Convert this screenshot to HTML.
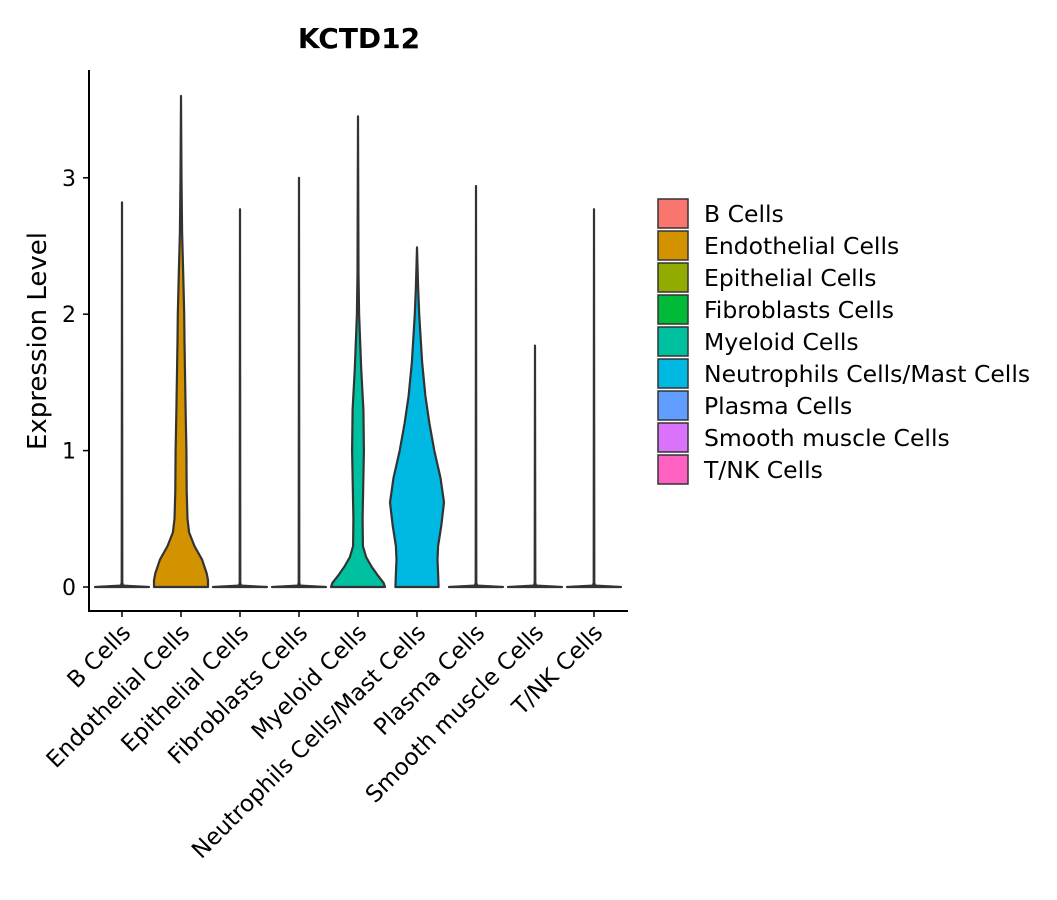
<!DOCTYPE html>
<html><head><meta charset="utf-8"><style>
body{margin:0;background:#fff}
svg{display:block;font-family:"DejaVu Sans","Liberation Sans",sans-serif}
</style></head><body>
<svg id="chart" width="1057" height="900" viewBox="0 0 1057 900">
<text x="359" y="48" text-anchor="middle" font-size="28" font-weight="bold">KCTD12</text>
<text transform="translate(46,341) rotate(-90)" text-anchor="middle" font-size="26">Expression Level</text>
<g id="plot"></g>
<g id="legend"></g>
</svg>
<script>
const categories=["B Cells","Endothelial Cells","Epithelial Cells","Fibroblasts Cells","Myeloid Cells","Neutrophils Cells/Mast Cells","Plasma Cells","Smooth muscle Cells","T/NK Cells"];
const colors=["#F8766D","#D39200","#93AA00","#00BA38","#00C19F","#00B9E3","#619CFF","#DB72FB","#FF61C3"];
const yTicks=[0,1,2,3];
const profileB=[[0,1],[0.01,0.04],[0.03,0.01],[2.82,0]];
const profileEndo=[[0,1],[0.05,1.0],[0.1,0.95],[0.2,0.78],[0.3,0.5],[0.4,0.3],[0.5,0.24],[0.7,0.21],[1.0,0.2],[1.3,0.17],[1.8,0.13],[2.0,0.12],[2.3,0.08],[2.6,0.04],[3.0,0.02],[3.6,0]];
const profileEpi=[[0,1],[0.01,0.04],[0.03,0.01],[2.77,0]];
const profileFib=[[0,1],[0.01,0.04],[0.03,0.01],[3.0,0]];
const profileMye=[[0,1],[0.03,0.95],[0.08,0.75],[0.15,0.5],[0.22,0.3],[0.3,0.18],[0.5,0.17],[1.0,0.22],[1.3,0.2],[1.6,0.12],[2.0,0.04],[2.3,0.02],[3.45,0]];
const profileNeu=[[0,0.8],[0.1,0.78],[0.2,0.76],[0.3,0.78],[0.45,0.9],[0.62,1],[0.8,0.87],[1.0,0.64],[1.2,0.46],[1.4,0.31],[1.65,0.19],[2.0,0.08],[2.2,0.04],[2.49,0]];
const profilePla=[[0,1],[0.01,0.04],[0.03,0.01],[2.94,0]];
const profileSmc=[[0,1],[0.01,0.04],[0.03,0.01],[1.77,0]];
const profileTnk=[[0,1],[0.01,0.04],[0.03,0.01],[2.77,0]];
const profiles=[profileB,profileEndo,profileEpi,profileFib,profileMye,profileNeu,profilePla,profileSmc,profileTnk];

const NS="http://www.w3.org/2000/svg";
const plot=document.getElementById('plot'),legend=document.getElementById('legend');
const y0=587,pxPerUnit=136.4,x0=122,step=59,halfMax=27;
const yScale=v=>y0-v*pxPerUnit;
const xScale=i=>x0+i*step;
function mk(tag,attrs,parent){const e=document.createElementNS(NS,tag);for(const k in attrs)e.setAttribute(k,attrs[k]);parent.appendChild(e);return e;}

profiles.forEach((p,i)=>{
  const cx=xScale(i);
  let left=[],right=[];
  p.forEach(([v,w])=>{left.push([cx-w*halfMax,yScale(v)]);right.push([cx+w*halfMax,yScale(v)]);});
  const pts=left.concat(right.reverse());
  const d="M"+pts.map(q=>q[0].toFixed(1)+","+q[1].toFixed(1)).join("L")+"Z";
  const path=mk('path',{d:d,fill:colors[i],stroke:"#333",'stroke-width':2.2,'stroke-linejoin':'round'},plot);
  
  
  const tk=mk('line',{x1:cx,x2:cx,y1:611,y2:617,stroke:"#000",'stroke-width':1.5},plot);
  
  
  const t=mk('text',{transform:`translate(${cx+10},${634}) rotate(-45)`,'text-anchor':'end','font-size':23},plot);
  t.textContent=categories[i];
  
  
  const r=mk('rect',{x:658,y:199+i*32,width:30,height:29,fill:colors[i],stroke:"#333",'stroke-width':1.5},legend);
  
  
  const lt=mk('text',{x:704,y:222+i*32,'font-size':23.5},legend);
  lt.textContent=categories[i];
  
  
});
yTicks.forEach(v=>{
  const y=yScale(v);
  const l=mk('line',{x1:83,x2:89,y1:y,y2:y,stroke:"#000",'stroke-width':1.5},plot);
  
  
  const t=mk('text',{x:76,y:y+8,'text-anchor':'end','font-size':22},plot);
  t.textContent=v;
  
  
});
const ya=mk('line',{x1:89,x2:89,y1:70,y2:612,stroke:"#000",'stroke-width':2},plot);


const xa=mk('line',{x1:88,x2:628,y1:611,y2:611,stroke:"#000",'stroke-width':2},plot);


</script>
</body></html>
